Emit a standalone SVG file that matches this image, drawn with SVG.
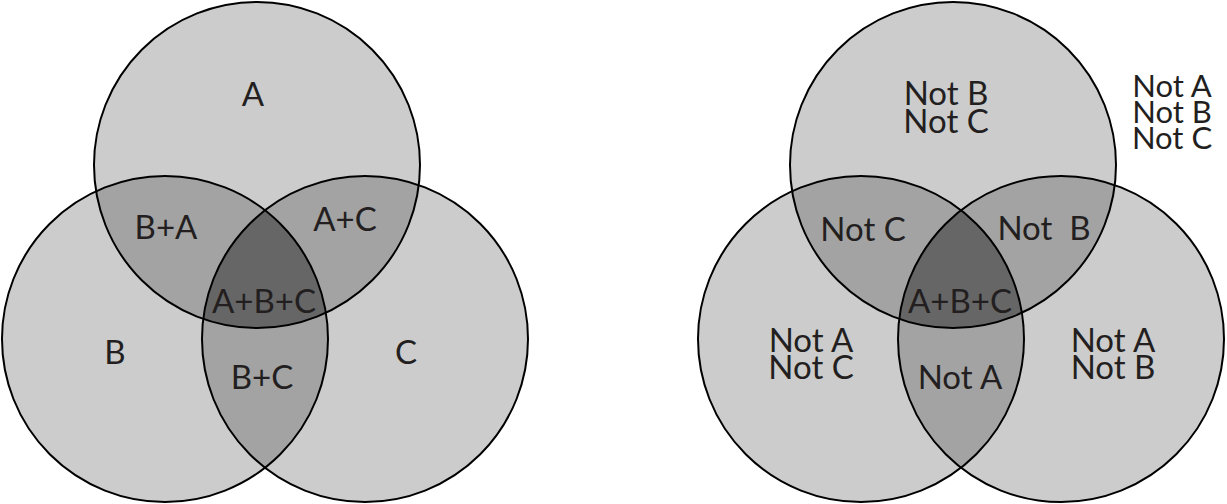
<svg xmlns="http://www.w3.org/2000/svg" width="1227" height="504" viewBox="0 0 1227 504">
<style>
.c{fill:#cccccc}
.d{fill:#a3a3a3}
.t3{fill:#666666}
.o{fill:none;stroke:#000;stroke-width:2}
text{font-family:Lato,"Liberation Sans",sans-serif;font-size:33px;fill:#231f20;text-anchor:middle}
.s{font-size:31px}
</style>
<defs>
<clipPath id="lA"><circle cx="257" cy="165" r="163"/></clipPath>
<clipPath id="lB"><circle cx="165" cy="339" r="163"/></clipPath>
<clipPath id="rA"><circle cx="953" cy="165" r="163"/></clipPath>
<clipPath id="rB"><circle cx="861" cy="339" r="163"/></clipPath>
</defs>
<g id="left-venn">
<g id="left-fills">
<circle class="c" cx="257" cy="165" r="163"/>
<circle class="c" cx="165" cy="339" r="163"/>
<circle class="c" cx="365" cy="339" r="163"/>
<g clip-path="url(#lA)"><circle class="d" cx="165" cy="339" r="163"/><circle class="d" cx="365" cy="339" r="163"/></g>
<g clip-path="url(#lB)"><circle class="d" cx="365" cy="339" r="163"/></g>
<g clip-path="url(#lA)"><g clip-path="url(#lB)"><circle class="t3" cx="365" cy="339" r="163"/></g></g>
</g>
<g id="left-outlines">
<circle class="o" cx="257" cy="165" r="163"/>
<circle class="o" cx="165" cy="339" r="163"/>
<circle class="o" cx="365" cy="339" r="163"/>
</g>
<g id="left-labels">
<text x="253" y="106">A</text>
<text x="166" y="239">B+A</text>
<text x="345" y="231">A+C</text>
<text x="264" y="313">A+B+C</text>
<text x="115" y="364">B</text>
<text x="262" y="389">B+C</text>
<text x="406" y="364">C</text>
</g>
</g>
<g id="right-venn">
<g id="right-fills">
<circle class="c" cx="953" cy="165" r="163"/>
<circle class="c" cx="861" cy="339" r="163"/>
<circle class="c" cx="1061" cy="339" r="163"/>
<g clip-path="url(#rA)"><circle class="d" cx="861" cy="339" r="163"/><circle class="d" cx="1061" cy="339" r="163"/></g>
<g clip-path="url(#rB)"><circle class="d" cx="1061" cy="339" r="163"/></g>
<g clip-path="url(#rA)"><g clip-path="url(#rB)"><circle class="t3" cx="1061" cy="339" r="163"/></g></g>
</g>
<g id="right-outlines">
<circle class="o" cx="953" cy="165" r="163"/>
<circle class="o" cx="861" cy="339" r="163"/>
<circle class="o" cx="1061" cy="339" r="163"/>
</g>
<g id="right-labels">
<text x="946" y="105">Not B</text>
<text x="946" y="133">Not C</text>
<text class="s" x="1172" y="97">Not A</text>
<text class="s" x="1172" y="123">Not B</text>
<text class="s" x="1172" y="149">Not C</text>
<text x="863" y="241">Not C</text>
<text x="1044" y="240" xml:space="preserve">Not  B</text>
<text x="960" y="313">A+B+C</text>
<text x="811" y="352">Not A</text>
<text x="811" y="379">Not C</text>
<text x="960" y="389">Not A</text>
<text x="1113" y="352">Not A</text>
<text x="1113" y="379">Not B</text>
</g>
</g>
</svg>
